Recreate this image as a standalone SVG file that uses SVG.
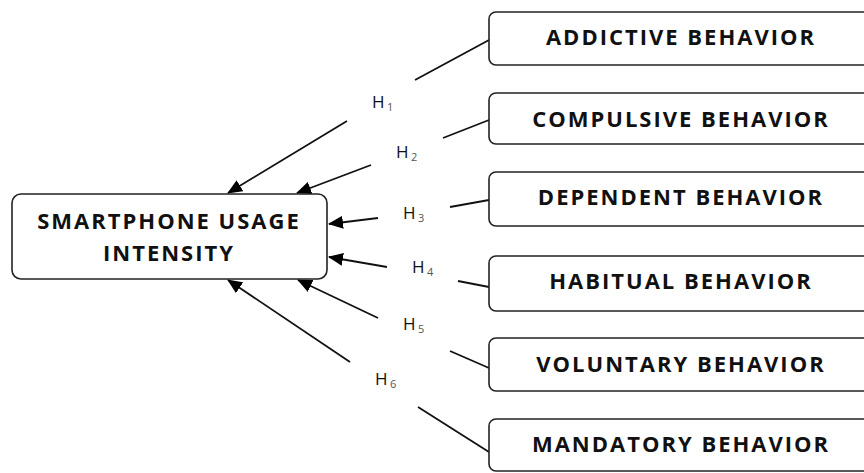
<svg xmlns="http://www.w3.org/2000/svg" width="864" height="473" viewBox="0 0 864 473">
  <defs>
    <marker id="arrow" markerUnits="userSpaceOnUse" markerWidth="15" markerHeight="13" refX="14" refY="6.5" orient="auto">
      <path d="M0,0 L15,6.5 L0,13 Z" fill="#000"/>
    </marker>
    <style>
      .box { fill: #fff; stroke: #222; stroke-width: 1.6; }
      .lbl { font-family: "Open Sans", "Liberation Sans", sans-serif; font-weight: bold; font-size: 22px; letter-spacing: 2px; fill: #111; text-anchor: middle; }
      .line { stroke: #111; stroke-width: 1.8; fill: none; }
      .arr { stroke: #111; stroke-width: 1.8; fill: none; marker-end: url(#arrow); }
      .h { font-family: "Open Sans", "Liberation Sans", sans-serif; font-size: 17px; fill: #111; }
      .sub { font-size: 11px; fill: #555; }
    </style>
  </defs>
  <rect width="864" height="473" fill="#fff"/>

  <g id="connectors">
    <line class="line" x1="489" y1="40" x2="415" y2="80"/>
    <line class="arr" x1="347" y1="121" x2="228" y2="193"/>
    <line class="line" x1="489" y1="120" x2="443" y2="138"/>
    <line class="arr" x1="371" y1="165" x2="297" y2="193"/>
    <line class="line" x1="489" y1="200" x2="450" y2="207"/>
    <line class="arr" x1="378" y1="218" x2="329" y2="224"/>
    <line class="line" x1="489" y1="287" x2="458" y2="281"/>
    <line class="arr" x1="387" y1="267" x2="329" y2="257"/>
    <line class="line" x1="489" y1="368" x2="450" y2="351"/>
    <line class="arr" x1="378" y1="318" x2="298" y2="280"/>
    <line class="line" x1="489" y1="452" x2="418" y2="407"/>
    <line class="arr" x1="350" y1="362" x2="228" y2="280"/>
  </g>

  <g id="labels">
    <text class="h" x="372" y="108">H<tspan class="sub" x="387" y="111">1</tspan></text>
    <text class="h" x="396" y="158">H<tspan class="sub" x="411" y="161">2</tspan></text>
    <text class="h" x="403" y="219">H<tspan class="sub" x="418" y="222">3</tspan></text>
    <text class="h" x="412" y="273">H<tspan class="sub" x="427" y="276">4</tspan></text>
    <text class="h" x="403" y="330">H<tspan class="sub" x="418" y="333">5</tspan></text>
    <text class="h" x="375" y="385">H<tspan class="sub" x="390" y="388">6</tspan></text>
  </g>

  <g id="smartphone-usage-intensity">
    <rect class="box" x="12" y="194" width="315" height="85" rx="9"/>
    <text class="lbl" x="169" y="229">SMARTPHONE USAGE</text>
    <text class="lbl" x="169" y="261">INTENSITY</text>
  </g>

  <g id="addictive-behavior">
    <rect class="box" x="489" y="12" width="400" height="53" rx="7"/>
    <text class="lbl" x="681" y="45">ADDICTIVE BEHAVIOR</text>
  </g>
  <g id="compulsive-behavior">
    <rect class="box" x="489" y="93" width="400" height="51" rx="7"/>
    <text class="lbl" x="681" y="127">COMPULSIVE BEHAVIOR</text>
  </g>
  <g id="dependent-behavior">
    <rect class="box" x="489" y="172" width="400" height="54" rx="7"/>
    <text class="lbl" x="681" y="205">DEPENDENT BEHAVIOR</text>
  </g>
  <g id="habitual-behavior">
    <rect class="box" x="489" y="256" width="400" height="55" rx="7"/>
    <text class="lbl" x="681" y="289">HABITUAL BEHAVIOR</text>
  </g>
  <g id="voluntary-behavior">
    <rect class="box" x="489" y="338" width="400" height="53" rx="7"/>
    <text class="lbl" x="681" y="372">VOLUNTARY BEHAVIOR</text>
  </g>
  <g id="mandatory-behavior">
    <rect class="box" x="489" y="419" width="400" height="52" rx="7"/>
    <text class="lbl" x="681" y="452">MANDATORY BEHAVIOR</text>
  </g>
</svg>
